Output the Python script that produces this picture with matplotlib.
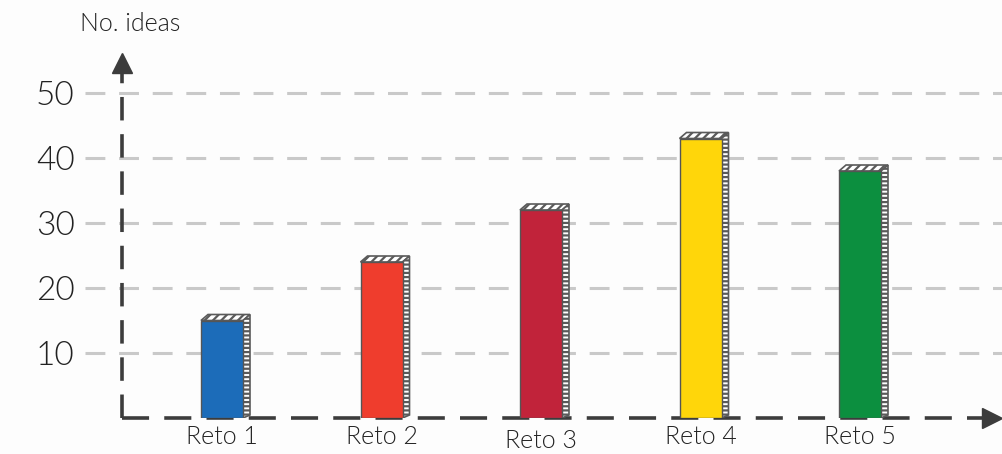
import matplotlib.pyplot as plt
from matplotlib.patches import Polygon, Rectangle
from matplotlib.transforms import ScaledTranslation

retos = ['Reto 1', 'Reto 2', 'Reto 3', 'Reto 4', 'Reto 5']
ideas = [15, 24, 32, 43, 38]
bar_colors = ['#1c6cb9', '#ef3d2d', '#c1233a', '#ffd60a', '#0c8f3f']
y_ticks = [10, 20, 30, 40, 50]

plt.rcParams.update({
    "font.family": ["Lato", "DejaVu Sans"],
    "font.weight": 300,
})

BG = '#fdfdfd'
AXIS_C = '#3c3c3c'
GRID_C = '#c9c9c9'
TEXT_C = '#222222'

fig = plt.figure(figsize=(10.03, 4.54), dpi=100, facecolor=BG)
# pixel-based placement of the plotting area
left_px, right_px, zero_px, top_px = 122, 1003, 418, 58
ax = fig.add_axes([left_px / 1003, (454 - zero_px) / 454,
                   (right_px - left_px) / 1003, (zero_px - top_px) / 454])
ax.set_facecolor(BG)

px_per_x = 159.5
x0_px = 222
ax.set_xlim((left_px - x0_px) / px_per_x, (right_px - x0_px) / px_per_x)
ax.set_ylim(0, (zero_px - top_px) / 6.5)

for s in ax.spines.values():
    s.set_visible(False)

# dashed light grid, extending left of the y axis
grid_left = (85 - x0_px) / px_per_x
for v in y_ticks:
    ax.plot([grid_left, ax.get_xlim()[1]], [v, v], color=GRID_C, lw=2.2,
            dashes=(6.5, 4.5), clip_on=False, zorder=1)

# dashed axes with arrow heads
xl = ax.get_xlim()[0]
ax.plot([xl, xl], [0, 54], color=AXIS_C, lw=2.6, dashes=(6.5, 3.8),
        clip_on=False, zorder=2, solid_capstyle='butt')
ax.plot([xl], [54.6], marker='^', markersize=15, color=AXIS_C,
        clip_on=False, zorder=3)
x_end = (985 - x0_px) / px_per_x
ax.plot([xl, x_end], [0, 0], color=AXIS_C, lw=2.6, dashes=(7.5, 4.2),
        clip_on=False, zorder=2)
ax.plot([(992 - x0_px) / px_per_x], [0], marker='>', markersize=15,
        color=AXIS_C, clip_on=False, zorder=3)

# pseudo-3D bars: coloured front, hatched top and side
plt.rcParams['hatch.linewidth'] = 1.6
w = 42 / px_per_x
dx = 7 / px_per_x
dy = 6 / 6.5
for i, (val, col) in enumerate(zip(ideas, bar_colors)):
    x = i - w / 2
    front = Rectangle((x, 0), w, val, facecolor=col, edgecolor='#555555',
                      lw=1.0, zorder=5)
    ax.add_patch(front)
    top = Polygon([(x, val), (x + w, val), (x + w + dx, val + dy), (x + dx, val + dy)],
                  closed=True, facecolor='white', edgecolor='#5a5a5a',
                  hatch='////', lw=1.2, zorder=4)
    ax.add_patch(top)
    side = Polygon([(x + w, 0), (x + w + dx, dy * 0.5), (x + w + dx, val + dy), (x + w, val)],
                   closed=True, facecolor='white', edgecolor='#5a5a5a',
                   hatch='----', lw=1.2, zorder=4)
    ax.add_patch(side)

ax.set_yticks(y_ticks)
ax.set_yticklabels([str(v) for v in y_ticks])
ax.tick_params(axis='y', length=0, pad=34, labelsize=24, labelcolor=TEXT_C)
ax.set_xticks(range(len(retos)))
ax.set_xticklabels(retos)
ax.tick_params(axis='x', length=0, pad=5, labelsize=18, labelcolor=TEXT_C)
lbl = ax.get_xticklabels()[2]
lbl.set_transform(lbl.get_transform() + ScaledTranslation(0, -3 / 72, fig.dpi_scale_trans))

fig.text(80 / 1003, 1 - 24 / 454, 'No. ideas', fontsize=18, color=TEXT_C,
         ha='left', va='center')

fig.savefig('out.png', dpi=100, facecolor=BG)
